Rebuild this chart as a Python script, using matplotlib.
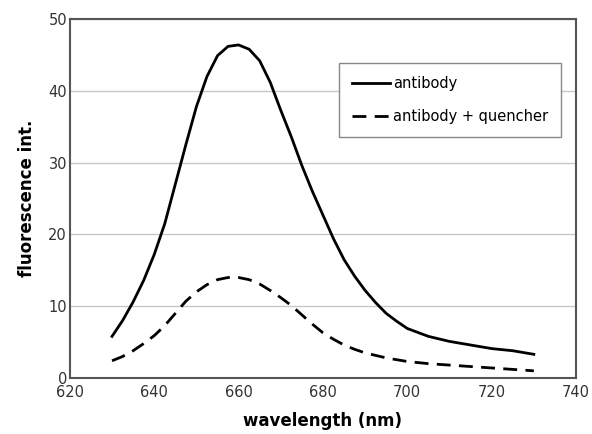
import matplotlib
matplotlib.use("Agg")
import matplotlib.pyplot as plt

wl_ab = [630, 632.5, 635, 637.5, 640, 642.5, 645, 647.5, 650, 652.5, 655,
         657.5, 660, 662.5, 665, 667.5, 670, 672.5, 675, 677.5, 680, 682.5,
         685, 687.5, 690, 692.5, 695, 697.5, 700, 705, 710, 715, 720, 725, 730]
antibody = [5.8, 8.0, 10.6, 13.6, 17.2, 21.5, 27.0, 32.5, 37.8, 42.0, 44.9,
            46.2, 46.4, 45.8, 44.2, 41.2, 37.3, 33.6, 29.6, 26.0, 22.7, 19.4,
            16.5, 14.2, 12.2, 10.5, 9.0, 7.9, 6.9, 5.8, 5.1, 4.6, 4.1, 3.8, 3.3]
wl_q = [630, 632.5, 635, 637.5, 640, 642.5, 645, 647.5, 650, 652.5, 655,
        657.5, 660, 662.5, 665, 667.5, 670, 672.5, 675, 677.5, 680, 682.5,
        685, 687.5, 690, 695, 700, 705, 710, 715, 720, 725, 730]
quenched = [2.4, 3.0, 3.8, 4.8, 5.9, 7.3, 9.0, 10.7, 12.0, 13.0, 13.7,
            14.0, 14.0, 13.7, 13.1, 12.2, 11.2, 10.1, 8.8, 7.5, 6.3, 5.4,
            4.6, 4.0, 3.5, 2.8, 2.3, 2.0, 1.8, 1.6, 1.4, 1.2, 1.0]
xticks = [620, 640, 660, 680, 700, 720, 740]
yticks = [0, 10, 20, 30, 40, 50]

fig = plt.figure(figsize=(5.92, 4.34), dpi=100)
ax = fig.add_axes([0.118, 0.129, 0.855, 0.827])

ax.plot(wl_ab, antibody, color="black", lw=2, label="antibody")
ax.plot(wl_q, quenched, color="black", lw=2, ls=(0, (5, 3)),
        label="antibody + quencher")

ax.set_xlim(620, 740)
ax.set_ylim(0, 50)
ax.set_xticks(xticks)
ax.set_yticks(yticks)
ax.yaxis.grid(True, color="#c8c8c8", lw=1)
ax.set_axisbelow(True)
ax.tick_params(length=0, labelsize=10.5, colors="#333333")
ax.tick_params(axis="x", pad=5)
ax.tick_params(axis="y", pad=2)
for s in ax.spines.values():
    s.set_color("#555555")
    s.set_linewidth(1.5)

ax.set_xlabel("wavelength (nm)", fontsize=12, fontweight="bold", labelpad=9)
ax.set_ylabel("fluorescence int.", fontsize=12, fontweight="bold", labelpad=9)

leg = ax.legend(loc="upper left", bbox_to_anchor=(0.532, 0.877), fontsize=10.5,
                fancybox=False, framealpha=1, edgecolor="#888888",
                handlelength=2.6, handletextpad=0.2, labelspacing=1.2,
                borderpad=0.9, borderaxespad=0)
leg.get_frame().set_linewidth(1)

fig.savefig("out.png", dpi=100)
